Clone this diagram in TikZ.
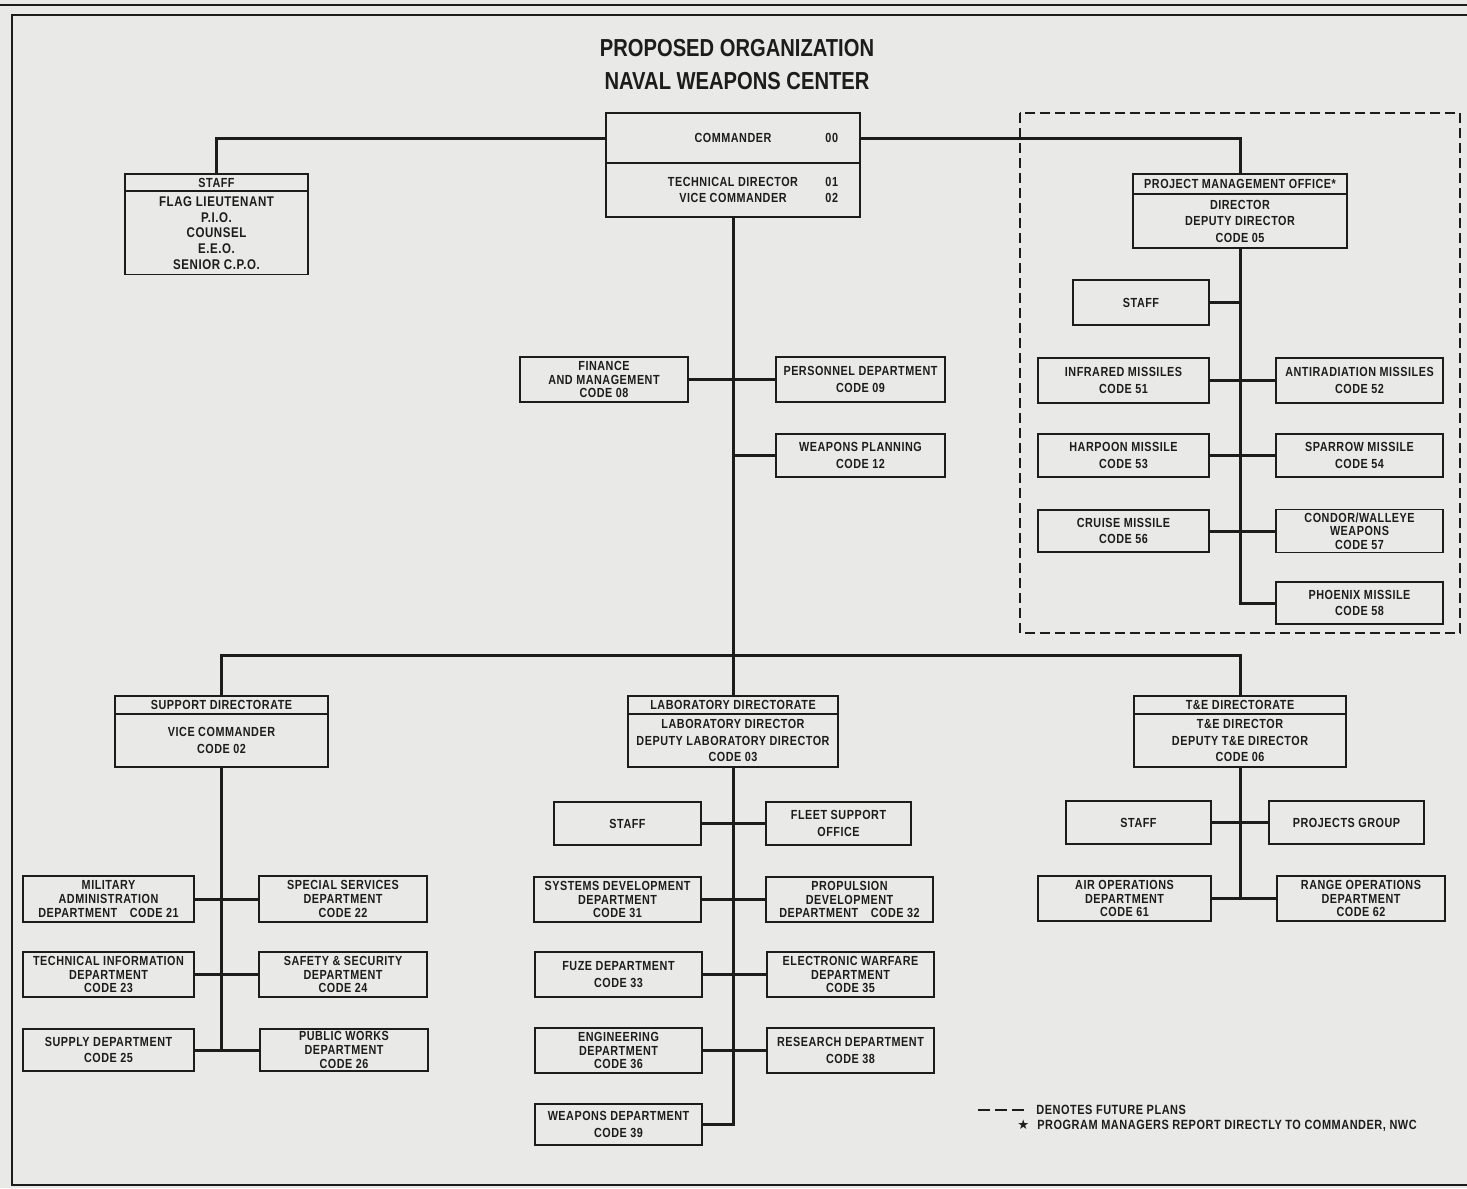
\documentclass[tikz,border=0pt]{standalone}
\usepackage{fontspec}
\setmainfont{Liberation Sans}[FakeStretch=0.82,LetterSpace=4]
\newfontfamily\titlefont{Liberation Sans}[FakeStretch=0.82]
\newfontfamily\symfont{DejaVu Sans}
\newcommand\withcode[2]{\makebox[2.8cm]{#1}\rlap{\hspace{0.45cm}#2}}
\definecolor{ink}{RGB}{28,28,28}
\definecolor{paper}{RGB}{233,233,231}
\begin{document}
\begin{tikzpicture}[x = 0.02cm, y = -0.02cm,
  box/.style = {draw = ink, line width = 1.1pt, inner sep = 0pt, align = center, text = ink, font = \bfseries\fontsize{7.5}{9.4}\selectfont},
  tight/.style = {box, font = \bfseries\fontsize{7.5}{7.8}\selectfont},
  sz/.style 2 args = {minimum width = #1*0.02cm, minimum height = #2*0.02cm},
  link/.style = {draw = ink, line width = 1.7pt},
  future/.style = {draw = ink, line width = 1pt, dash pattern = on 0.2cm off 0.1cm},
  title/.style = {align = center, text = ink, inner sep = 0pt, font = \titlefont\bfseries\fontsize{14}{18.7}\selectfont},
  legend/.style = {anchor = west, text = ink, inner sep = 0pt, font = \bfseries\fontsize{7.6}{8}\selectfont}]
\useasboundingbox (0,0) rectangle (1467,1188);
\fill[paper] (0,0) rectangle (1467,1188);
\draw[ink, line width = 1.2pt] (0,5) -- (1467,5);
\draw[ink, line width = 1.4pt] (1467,15) -- (12,15) -- (12,1185) -- (1467,1185);
\node[title] (title) at (737,64.5) {PROPOSED ORGANIZATION\\NAVAL WEAPONS CENTER};
\node[box, sz = {254}{50}] (cmdhead) at (733,138) {\withcode{COMMANDER}{00}};
\node[box, sz = {254}{54}] (cmdbody) at (733,190) {\withcode{TECHNICAL DIRECTOR}{01}\\\withcode{VICE COMMANDER}{02}};
\node[box, sz = {183}{17}] (staffhead) at (216.5,182.5) {STAFF};
\node[box, sz = {183}{83}, font = \bfseries\fontsize{8}{8.9}\selectfont] (staffbody) at (216.5,233) {FLAG LIEUTENANT\\P.I.O.\\COUNSEL\\E.E.O.\\SENIOR C.P.O.};
\draw[future] (1020,113) rectangle (1460,633);
\node[box, sz = {214}{20}] (pmohead) at (1240,184) {PROJECT MANAGEMENT OFFICE*};
\node[box, sz = {214}{54}] (pmobody) at (1240,221) {DIRECTOR\\DEPUTY DIRECTOR\\CODE 05};
\node[box, sz = {136}{45}] (pmostaff) at (1141,302.5) {STAFF};
\node[box, sz = {171}{45}] (infrared) at (1123.5,380.5) {INFRARED MISSILES\\CODE 51};
\node[box, sz = {167}{45}] (antirad) at (1359.5,380.5) {ANTIRADIATION MISSILES\\CODE 52};
\node[box, sz = {171}{43}] (harpoon) at (1123.5,455.5) {HARPOON MISSILE\\CODE 53};
\node[box, sz = {167}{43}] (sparrow) at (1359.5,455.5) {SPARROW MISSILE\\CODE 54};
\node[box, sz = {171}{42}] (cruise) at (1123.5,531) {CRUISE MISSILE\\CODE 56};
\node[tight, sz = {167}{43}] (condor) at (1359.5,531) {CONDOR/WALLEYE\\WEAPONS\\CODE 57};
\node[box, sz = {167}{42}] (phoenix) at (1359.5,603) {PHOENIX MISSILE\\CODE 58};
\node[tight, sz = {168}{45}] (finance) at (604,379.5) {FINANCE\\AND MANAGEMENT\\CODE 08};
\node[box, sz = {169}{45}] (personnel) at (860.5,379.5) {PERSONNEL DEPARTMENT\\CODE 09};
\node[box, sz = {169}{43}] (wplanning) at (860.5,455.5) {WEAPONS PLANNING\\CODE 12};
\node[box, sz = {213}{18}] (suphead) at (221.5,705) {SUPPORT DIRECTORATE};
\node[box, sz = {213}{53}] (supbody) at (221.5,740.5) {VICE COMMANDER\\CODE 02};
\node[tight, sz = {171}{46}] (milad) at (108.5,899) {MILITARY\\ADMINISTRATION\\DEPARTMENT\hspace{0.25cm}CODE 21};
\node[tight, sz = {168}{46}] (specserv) at (343,899) {SPECIAL SERVICES\\DEPARTMENT\\CODE 22};
\node[tight, sz = {171}{45}] (techinfo) at (108.5,974.5) {TECHNICAL INFORMATION\\DEPARTMENT\\CODE 23};
\node[tight, sz = {168}{45}] (safety) at (343,974.5) {SAFETY \& SECURITY\\DEPARTMENT\\CODE 24};
\node[box, sz = {171}{42}] (supply) at (108.5,1050) {SUPPLY DEPARTMENT\\CODE 25};
\node[tight, sz = {168}{42}] (pubworks) at (344,1050) {PUBLIC WORKS\\DEPARTMENT\\CODE 26};
\node[box, sz = {210}{18}] (labhead) at (733,705) {LABORATORY DIRECTORATE};
\node[box, sz = {210}{53}] (labbody) at (733,740.5) {LABORATORY DIRECTOR\\DEPUTY LABORATORY DIRECTOR\\CODE 03};
\node[box, sz = {147}{43}] (labstaff) at (627.5,823.5) {STAFF};
\node[box, sz = {145}{43}] (fleet) at (838.5,823.5) {FLEET SUPPORT\\OFFICE};
\node[tight, sz = {167}{45}] (sysdev) at (617.5,899.5) {SYSTEMS DEVELOPMENT\\DEPARTMENT\\CODE 31};
\node[tight, sz = {167}{45}] (propul) at (849.5,899.5) {PROPULSION\\DEVELOPMENT\\DEPARTMENT\hspace{0.25cm}CODE 32};
\node[box, sz = {167}{45}] (fuze) at (618.5,974.5) {FUZE DEPARTMENT\\CODE 33};
\node[tight, sz = {167}{45}] (ewar) at (850.5,974.5) {ELECTRONIC WARFARE\\DEPARTMENT\\CODE 35};
\node[tight, sz = {167}{45}] (engin) at (618.5,1050.5) {ENGINEERING\\DEPARTMENT\\CODE 36};
\node[box, sz = {167}{45}] (research) at (850.5,1050.5) {RESEARCH DEPARTMENT\\CODE 38};
\node[box, sz = {167}{41}] (wpndept) at (618.5,1124.5) {WEAPONS DEPARTMENT\\CODE 39};
\node[box, sz = {212}{18}] (tehead) at (1240,705) {T\&E DIRECTORATE};
\node[box, sz = {212}{53}] (tebody) at (1240,740.5) {T\&E DIRECTOR\\DEPUTY T\&E DIRECTOR\\CODE 06};
\node[box, sz = {145}{43}] (testaff) at (1138.5,822.5) {STAFF};
\node[box, sz = {155}{43}] (projects) at (1346.5,822.5) {PROJECTS GROUP};
\node[tight, sz = {173}{45}] (airops) at (1124.5,898.5) {AIR OPERATIONS\\DEPARTMENT\\CODE 61};
\node[tight, sz = {168}{45}] (rangeops) at (1361,898.5) {RANGE OPERATIONS\\DEPARTMENT\\CODE 62};
\node[legend] (plans) at (1036,1110) {DENOTES FUTURE PLANS};
\node[legend] (pmnote) at (1017,1126) {{\symfont ★}\hspace{0.16cm}PROGRAM MANAGERS REPORT DIRECTLY TO COMMANDER, NWC};
\draw[ink, line width = 1pt, dash pattern = on 0.24cm off 0.1cm] (plans.west) ++(-58,0) -- ++(46,0);
\coordinate (hub) at (733,655);
\draw[link] (staffhead.north) |- (cmdhead.west);
\draw[link] (cmdhead.east) -| (pmohead.north);
\draw[link] (cmdbody.south) -- (labhead.north);
\draw[link] (suphead.north) |- (hub) -| (tehead.north);
\draw[link] (pmobody.south) |- (phoenix.west);
\draw[link] (pmostaff.east) -- (pmostaff.east -| pmobody.south);
\draw[link] (wplanning.west) -- (wplanning.west -| cmdbody.south);
\draw[link] (supbody.south) |- (supply.east);
\draw[link] (labbody.south) |- (wpndept.east);
\draw[link] (tebody.south) -- (tebody.south |- airops.east);
\foreach \a/\b in {finance/personnel, infrared/antirad, harpoon/sparrow, cruise/condor, milad/specserv, techinfo/safety, supply/pubworks, labstaff/fleet, sysdev/propul, fuze/ewar, engin/research, testaff/projects, airops/rangeops}
  \draw[link] (\a.east) -- (\b.west);
\end{tikzpicture}
\end{document}
